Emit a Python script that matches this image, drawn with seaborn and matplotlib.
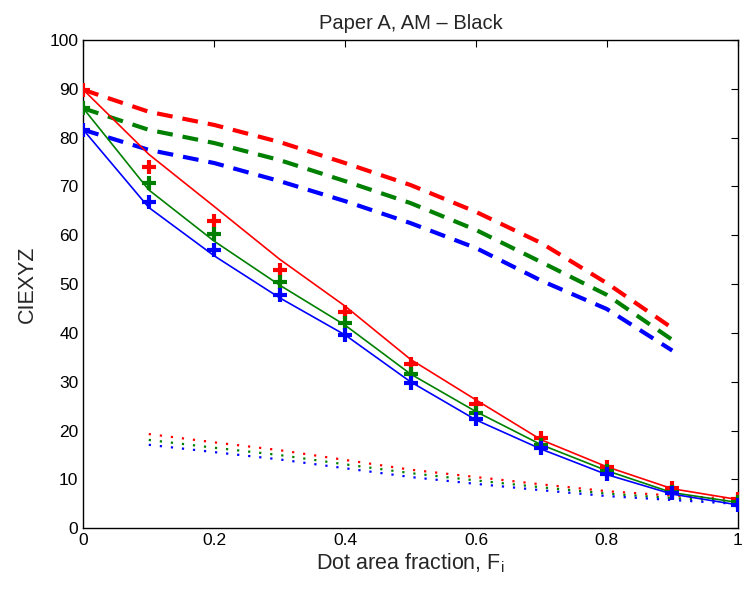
import numpy as np
import pandas as pd
import matplotlib
matplotlib.use('Agg')
import matplotlib.pyplot as plt
import seaborn as sns

# 측정값 (markers)
x_meas = [0.0, 0.1, 0.2, 0.3, 0.4, 0.5, 0.6, 0.7, 0.8, 0.9, 1.0]
X_meas = [89.8, 74.0, 62.9, 52.9, 44.2, 33.6, 25.4, 18.4, 12.5, 8.3, 5.9]
Y_meas = [86.0, 70.7, 60.2, 50.5, 42.0, 31.6, 23.7, 17.1, 11.8, 7.5, 5.3]
Z_meas = [81.6, 66.8, 57.0, 47.8, 39.6, 29.8, 22.3, 16.4, 11.1, 7.2, 4.8]

# model (solid lines)
X_model = [89.8, 76.6, 65.9, 55.1, 45.5, 34.6, 26.3, 18.1, 12.6, 8.1, 5.9]
Y_model = [86.0, 69.3, 58.8, 49.8, 41.6, 31.6, 23.9, 17.1, 11.8, 7.3, 5.3]
Z_model = [81.6, 65.7, 55.8, 47.2, 39.6, 30.0, 22.2, 16.2, 11.0, 7.0, 4.8]

# dashed lines
x_dash = [0.0, 0.1, 0.2, 0.3, 0.4, 0.5, 0.6, 0.7, 0.8, 0.9]
X_dash = [89.8, 85.3, 82.6, 79.1, 74.8, 70.3, 64.8, 58.4, 50.2, 41.0]
Y_dash = [86.0, 81.6, 78.9, 75.4, 71.1, 66.6, 61.1, 54.5, 47.8, 38.6]
Z_dash = [81.6, 77.5, 74.8, 71.1, 67.0, 62.5, 57.4, 50.7, 44.9, 36.4]

# dotted lines
x_dot = [0.1, 0.2, 0.3, 0.4, 0.5, 0.6, 0.7, 0.8, 0.9, 1.0]
X_dot = [19.3, 17.6, 16.0, 14.0, 12.0, 10.5, 9.0, 7.6, 6.7, 6.0]
Y_dot = [18.1, 16.5, 15.0, 13.1, 11.3, 9.8, 8.4, 7.1, 6.2, 5.5]
Z_dot = [17.1, 15.6, 14.1, 12.3, 10.5, 9.1, 7.8, 6.6, 5.8, 5.0]

colors = {'X': (1, 0, 0), 'Y': (0, 0.5, 0), 'Z': (0, 0, 1)}

sns.set_style('white')
plt.rcParams['font.family'] = ['Liberation Sans', 'DejaVu Sans']
plt.rcParams['xtick.direction'] = 'in'
plt.rcParams['ytick.direction'] = 'in'

fig = plt.figure(figsize=(7.42, 5.94), dpi=100)
ax = fig.add_axes([0.1123, 0.1106, 0.8819, 0.8221])

series = [
    ('X', X_meas, X_model, X_dash, X_dot),
    ('Y', Y_meas, Y_model, Y_dash, Y_dot),
    ('Z', Z_meas, Z_model, Z_dash, Z_dot),
]

# dotted
for key, meas, model, dash, dot in series:
    sns.lineplot(x=x_dot, y=dot, ax=ax, color=colors[key], linewidth=1.6,
                 linestyle=(0, (1, 4)), sort=False)

# dashed
for key, meas, model, dash, dot in series:
    sns.lineplot(x=x_dash, y=dash, ax=ax, color=colors[key], linewidth=3,
                 linestyle=(0, (3.8, 2.4)), sort=False)

# solid
for key, meas, model, dash, dot in series:
    sns.lineplot(x=x_meas, y=model, ax=ax, color=colors[key], linewidth=1.2, sort=False)

# markers
for key, meas, model, dash, dot in series:
    sns.scatterplot(x=x_meas, y=meas, ax=ax, color=colors[key], marker='+',
                    s=95, linewidth=3, zorder=5)

ax.set_xlim(0, 1)
ax.set_ylim(0, 100)
ax.set_xticks([0, 0.2, 0.4, 0.6, 0.8, 1])
ax.set_xticklabels(['0', '0.2', '0.4', '0.6', '0.8', '1'])
ax.set_yticks(range(0, 101, 10))
ax.tick_params(axis='both', labelsize=12.5, length=5, width=0.8,
               top=True, right=True, colors='black')
for sp in ax.spines.values():
    sp.set_visible(True)
    sp.set_color('black')
    sp.set_linewidth(1.0)

ax.set_title('Paper A, AM \u2013 Black', fontsize=14.5, pad=8)
ax.set_xlabel('Dot area fraction, F$_\\mathregular{i}$', fontsize=15.5, labelpad=2)
ax.set_ylabel('CIEXYZ', fontsize=15.5, labelpad=8)
ax.grid(False)

plt.savefig('out.png', dpi=100)
